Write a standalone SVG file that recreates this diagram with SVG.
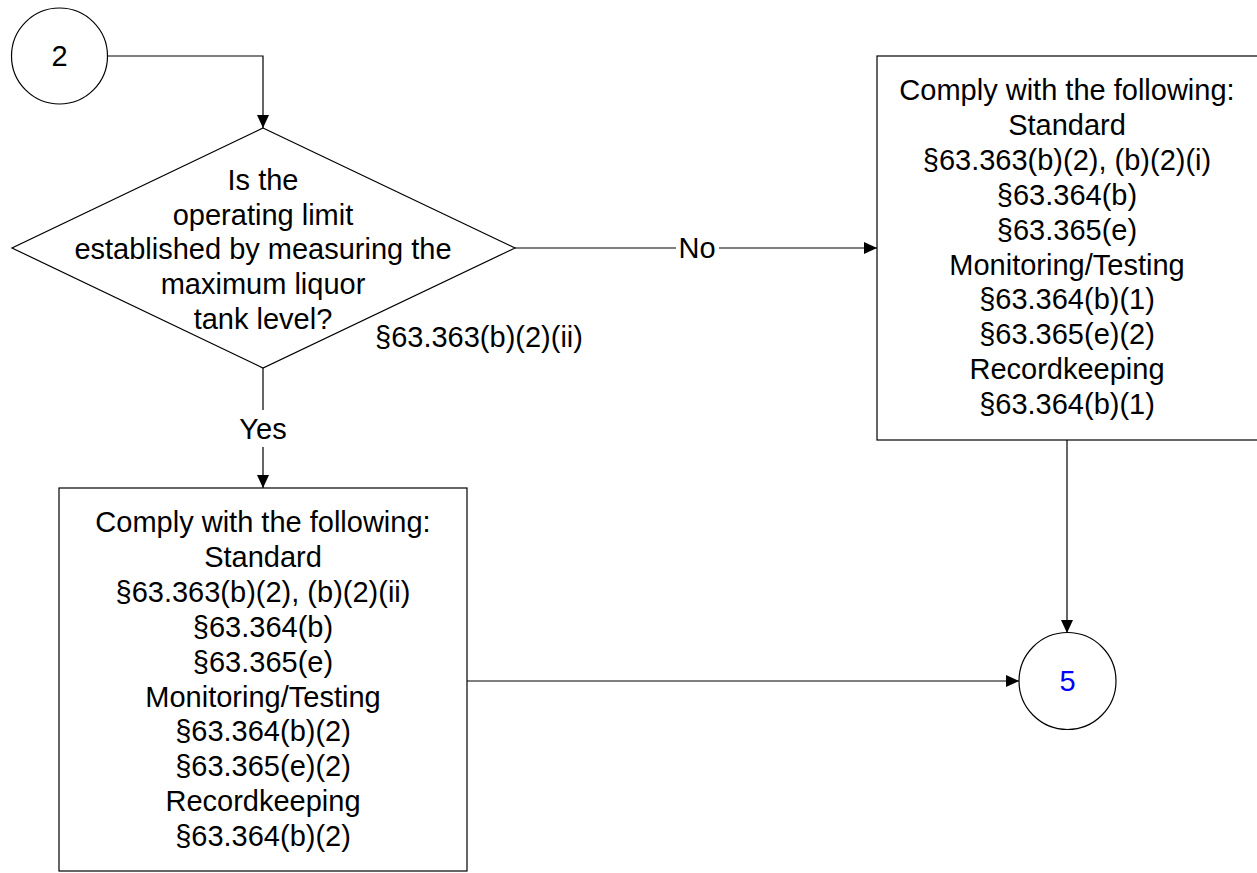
<svg xmlns="http://www.w3.org/2000/svg" width="1257" height="873" viewBox="0 0 1257 873">
<style>
.shape{fill:#fff;stroke:#000;stroke-width:1.2}
.conn{fill:none;stroke:#000;stroke-width:1.2}
text{font-family:"Liberation Sans",Arial,sans-serif;font-size:29px;fill:#000;text-anchor:middle}
.blue{fill:#0000ff}
</style>
<defs>
<marker id="arr" markerUnits="userSpaceOnUse" markerWidth="14" markerHeight="12" refX="13" refY="6" orient="auto">
<path d="M0,0 L13,6 L0,12 z" fill="#000"/>
</marker>
</defs>
<g id="connectors">
<path class="conn" d="M108,56 H263 V128" marker-end="url(#arr)"/>
<path class="conn" d="M515,248 H676 M719,248 H877" marker-end="url(#arr)"/>
<text x="697" y="258">No</text>
<path class="conn" d="M263,368 V410 M263,447 V488" marker-end="url(#arr)"/>
<text x="263" y="439">Yes</text>
<path class="conn" d="M1067,440 V633" marker-end="url(#arr)"/>
<path class="conn" d="M467,681 H1019" marker-end="url(#arr)"/>
</g>
<g id="start2">
<circle class="shape" cx="59.5" cy="56" r="48"/>
<text x="59.5" y="66">2</text>
</g>
<g id="decision">
<polygon class="shape" points="263,128 515,248 263,368 12,248"/>
<text x="263" y="190">Is the</text>
<text x="263" y="224.7">operating limit</text>
<text x="263" y="259.4">established by measuring the</text>
<text x="263" y="294.1">maximum liquor</text>
<text x="263" y="328.8">tank level?</text>
<text x="479" y="347">§63.363(b)(2)(ii)</text>
</g>
<g id="box-no">
<rect class="shape" x="877" y="56" width="390" height="384"/>
<text x="1067" y="100">Comply with the following:</text>
<text x="1067" y="134.9">Standard</text>
<text x="1067" y="169.8">§63.363(b)(2), (b)(2)(i)</text>
<text x="1067" y="204.7">§63.364(b)</text>
<text x="1067" y="239.6">§63.365(e)</text>
<text x="1067" y="274.5">Monitoring/Testing</text>
<text x="1067" y="309.4">§63.364(b)(1)</text>
<text x="1067" y="344.3">§63.365(e)(2)</text>
<text x="1067" y="379.2">Recordkeeping</text>
<text x="1067" y="414.1">§63.364(b)(1)</text>
</g>
<g id="box-yes">
<rect class="shape" x="59" y="488" width="408" height="383"/>
<text x="263" y="532">Comply with the following:</text>
<text x="263" y="566.9">Standard</text>
<text x="263" y="601.8">§63.363(b)(2), (b)(2)(ii)</text>
<text x="263" y="636.7">§63.364(b)</text>
<text x="263" y="671.6">§63.365(e)</text>
<text x="263" y="706.5">Monitoring/Testing</text>
<text x="263" y="741.4">§63.364(b)(2)</text>
<text x="263" y="776.3">§63.365(e)(2)</text>
<text x="263" y="811.2">Recordkeeping</text>
<text x="263" y="846.1">§63.364(b)(2)</text>
</g>
<g id="end5">
<circle class="shape" cx="1067.5" cy="681" r="48.5"/>
<text class="blue" x="1067.5" y="691">5</text>
</g>
</svg>
